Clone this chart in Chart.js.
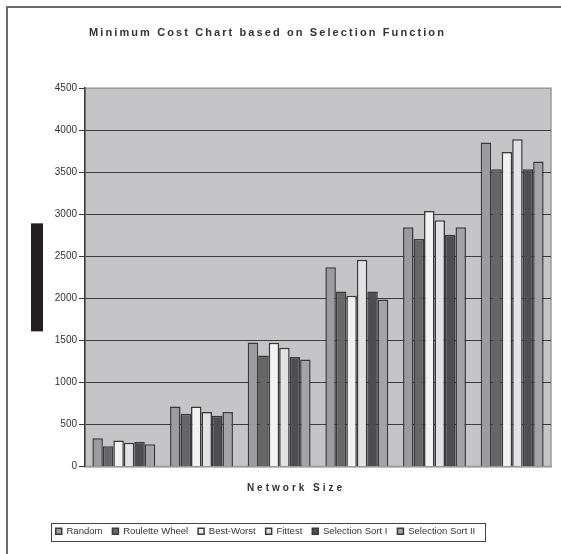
<!DOCTYPE html>
<html>
<head>
<meta charset="utf-8">
<script src="https://cdn.jsdelivr.net/npm/chart.js@4.4.1/dist/chart.umd.min.js"></script>
<style>
  html, body { margin: 0; padding: 0; background: #fff; }
  #wrap { position: relative; width: 561px; height: 554px; overflow: hidden; }
  #frame { position: absolute; left: 6px; top: 6px; width: 600px; height: 600px;
           border-left: 2px solid #6b6b6b; border-top: 2px solid #6b6b6b; }
  #chart { position: absolute; left: 0; top: 0; }
</style>
</head>
<body>
<div id="wrap">
  <div id="frame"></div>
  <canvas id="chart" width="561" height="554"></canvas>
</div>
<script>
// network sizes (category labels are not printed on the original)
const networkSizes = ['Size 1', 'Size 2', 'Size 3', 'Size 4', 'Size 5', 'Size 6'];

const random     = [337, 714, 1476, 2369, 2845, 3853];
const roulette   = [242, 627, 1321, 2083, 2706, 3536];
const bestWorst  = [310, 714, 1472, 2032, 3040, 3742];
const fittest    = [282, 647, 1413, 2460, 2929, 3893];
const selSortI   = [290, 603, 1302, 2083, 2758, 3536];
const selSortII  = [266, 647, 1274, 1988, 2845, 3627];

const yMax = 4500;
const yStep = 500;

const FONT = "'Liberation Sans', Arial, sans-serif";

// grey plot area behind the bars
const plotBackground = {
  id: 'plotBackground',
  beforeDraw(chart) {
    const { ctx, chartArea: a } = chart;
    ctx.save();
    ctx.fillStyle = '#c5c5c7';
    ctx.fillRect(a.left, a.top, a.right - a.left, a.bottom - a.top);
    ctx.strokeStyle = '#9a9a9a';
    ctx.lineWidth = 1.5;
    ctx.strokeRect(a.left, a.top, a.right - a.left, a.bottom - a.top);
    ctx.restore();
  }
};

// wider letter spacing (and small shift) for chart title and x axis title
const spacedText = {
  id: 'spacedText',
  beforeDraw(chart) {
    const wrap = (obj, key, spacing, dx) => {
      if (!obj || obj['_sp_' + key]) return;
      const orig = obj[key];
      obj[key] = function (...args) {
        const c = chart.ctx;
        c.save();
        c.translate(dx, 0);
        c.letterSpacing = spacing;
        orig.apply(this, args);
        c.restore();
      };
      obj['_sp_' + key] = true;
    };
    wrap(chart.titleBlock, 'draw', '2.1px', -8);
    wrap(chart.scales.x, 'drawTitle', '3px', -22);
  }
};

// legend: shifted a bit to the left and boxed
const legendFrame = {
  id: 'legendFrame',
  afterLayout(chart) {
    const lg = chart.legend;
    lg.left -= 10;
    lg.right -= 10;
  },
  afterDraw(chart) {
    const { ctx } = chart;
    const hb = chart.legend.legendHitBoxes;
    if (!hb || !hb.length) return;
    const x0 = Math.min(...hb.map(h => h.left)) - 5;
    const x1 = Math.max(...hb.map(h => h.left + h.width)) + 9;
    const y0 = hb[0].top - 4;
    const y1 = hb[0].top + hb[0].height + 4;
    ctx.save();
    ctx.strokeStyle = '#444';
    ctx.lineWidth = 1;
    ctx.strokeRect(Math.round(x0) + 0.5, Math.round(y0) + 0.5, Math.round(x1 - x0), Math.round(y1 - y0));
    ctx.restore();
  }
};

// blacked-out y axis title of the original
const hiddenAxisTitle = {
  id: 'hiddenAxisTitle',
  afterDraw(chart) {
    const { ctx, chartArea: a } = chart;
    const h = 108;
    const cy = (a.top + a.bottom) / 2;
    ctx.save();
    ctx.fillStyle = '#231f20';
    ctx.fillRect(a.left - 54, cy - h / 2, 12, h);
    ctx.restore();
  }
};

const mk = (label, data, color) => ({
  label: label,
  data: data,
  backgroundColor: color,
  borderColor: '#3a3a3a',
  borderWidth: 1.5,
  categoryPercentage: 0.81,
  barPercentage: 1.0
});

new Chart(document.getElementById('chart').getContext('2d'), {
  type: 'bar',
  data: {
    labels: networkSizes,
    datasets: [
      mk('Random', random, '#9c9c9e'),
      mk('Roulette Wheel', roulette, '#666668'),
      mk('Best-Worst', bestWorst, '#f2f2f2'),
      mk('Fittest', fittest, '#e2e2e4'),
      mk('Selection Sort I', selSortI, '#4e4e50'),
      mk('Selection Sort II', selSortII, '#a4a4a6')
    ]
  },
  options: {
    responsive: false,
    animation: false,
    layout: { padding: { left: 0, right: 10, top: 0, bottom: 8 } },
    plugins: {
      title: {
        display: true,
        text: 'Minimum Cost Chart based on Selection Function',
        color: '#333',
        font: { family: FONT, size: 11, weight: 'bold' },
        padding: { top: 26, bottom: 49 }
      },
      legend: {
        position: 'bottom',
        labels: {
          color: '#333',
          font: { family: FONT, size: 9.5 },
          boxWidth: 6,
          boxHeight: 6,
          padding: 10
        }
      },
      tooltip: { enabled: false }
    },
    scales: {
      x: {
        ticks: { display: false },
        grid: { display: false, drawTicks: false },
        border: { display: true, color: '#9a9a9a', width: 1.5 },
        title: {
          display: true,
          text: 'Network Size',
          color: '#333',
          font: { family: FONT, size: 10, weight: 'bold' },
          padding: { top: 16, bottom: 22 }
        }
      },
      y: {
        min: 0,
        max: yMax,
        ticks: {
          stepSize: yStep,
          color: '#333',
          padding: 2,
          font: { family: FONT, size: 10 },
          callback: (v) => String(v)
        },
        grid: {
          color: (c) => (c.tick && (c.tick.value === 0 || c.tick.value === yMax)) ? '#9a9a9a' : '#3c3c3c',
          tickColor: '#3c3c3c',
          tickLength: 6,
          lineWidth: 1
        },
        border: { display: true, color: '#3c3c3c', width: 1.5 },
        afterFit(scale) { scale.width = 85; }
      }
    }
  },
  plugins: [plotBackground, spacedText, legendFrame, hiddenAxisTitle]
});
</script>
</body>
</html>
